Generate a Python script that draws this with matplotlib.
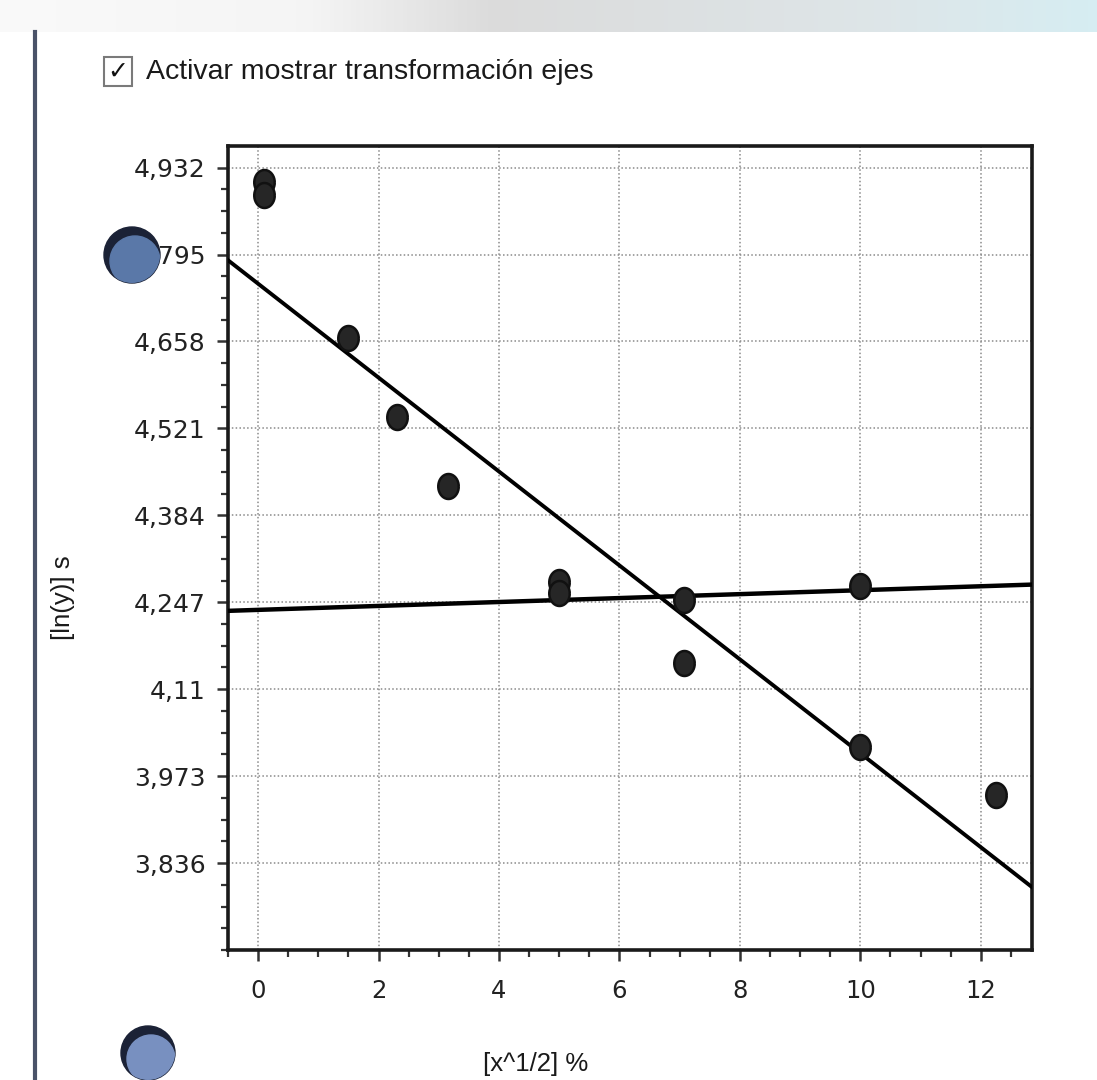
import matplotlib
matplotlib.use("Agg")
import matplotlib.pyplot as plt
import numpy as np
from matplotlib.patches import Circle, Rectangle

# data
x_vals = [0.1, 0.1, 1.5, 2.3, 3.16, 5.0, 5.0, 7.07, 7.07, 10.0, 10.0, 12.25]
y_vals = [4.909, 4.889, 4.663, 4.539, 4.430, 4.279, 4.262, 4.251, 4.152, 4.273, 4.019, 3.943]

# fitted lines (intercept, slope)
fit_down = (4.749, -0.0740)
fit_flat = (4.235, 0.0031)

y_ticks = [4.932, 4.795, 4.658, 4.521, 4.384, 4.247, 4.11, 3.973, 3.836]
y_ticklabels = ["4,932", "4,795", "4,658", "4,521", "4,384", "4,247", "4,11", "3,973", "3,836"]
x_ticks = [0, 2, 4, 6, 8, 10, 12]

W, H = 1097, 1080
fig = plt.figure(figsize=(W / 100, H / 100), dpi=100)
fig.patch.set_facecolor("white")

# background: top strip + left border
bg = fig.add_axes([0, 0, 1, 1], zorder=-5)
bg.set_xlim(0, W)
bg.set_ylim(H, 0)
bg.axis("off")
grad = np.ones((1, 256, 3))
stops_x = [0, 0.28, 0.45, 0.8, 1.0]
stops_c = [(0.98, 0.98, 0.98), (0.96, 0.96, 0.96), (0.86, 0.86, 0.86), (0.87, 0.9, 0.91), (0.84, 0.93, 0.95)]
t = np.linspace(0, 1, 256)
for k in range(3):
    grad[0, :, k] = np.interp(t, stops_x, [c[k] for c in stops_c])
bg.imshow(grad, extent=[0, W, 32, 0], aspect="auto")
bg.plot([35, 35], [32, H], color="#4a5268", lw=3)

# checkbox and caption
bg.add_patch(Rectangle((104, 57), 28, 29, fill=False, ec="#7a7a7a", lw=1.5))
bg.text(118, 72, "✓", ha="center", va="center", fontsize=18, color="#111111", fontweight="bold")
bg.text(146, 72, "Activar mostrar transformación ejes", ha="left", va="center",
        fontsize=20.5, family="Liberation Sans", color="#1a1a1a")

# main chart
ax = fig.add_axes([228 / W, 1 - 950 / H, (1032 - 228) / W, (950 - 146) / H])
ax.set_xlim(-0.5, 12.85)
ax.set_ylim(3.727, 4.966)

ax.grid(True, which="major", color="#8a8a8a", linestyle=(0, (1, 1.5)), lw=1.1)

xx = np.array(ax.get_xlim())
ax.plot(xx, fit_down[0] + fit_down[1] * xx, color="black", lw=2.8, zorder=3)
ax.plot(xx, fit_flat[0] + fit_flat[1] * xx, color="black", lw=3.2, zorder=3)

th = np.linspace(0, 2 * np.pi, 40)
ell = np.column_stack([0.82 * np.cos(th), np.sin(th)])
ax.plot(x_vals, y_vals, linestyle="none", marker=ell, ms=18,
        mfc="#262626", mec="#111111", mew=1.8, zorder=4)

ax.set_xticks(x_ticks)
ax.set_xticklabels([str(v) for v in x_ticks])
ax.set_xticks(np.arange(-0.5, 12.9, 0.5), minor=True)
ax.set_yticks(y_ticks)
ax.set_yticklabels(y_ticklabels)
ax.set_yticks(np.arange(3.836 - 0.137, 4.966, 0.137 / 4), minor=True)
ax.tick_params(axis="both", which="major", direction="out", length=8, width=1.8, color="#333333")
ax.tick_params(axis="both", which="minor", direction="out", length=5, width=1.6, color="#333333")
ax.tick_params(axis="y", which="major", labelsize=18, pad=8, labelcolor="#222222")
ax.tick_params(axis="x", which="major", labelsize=17.5, pad=13, labelcolor="#222222")
ax.tick_params(top=False, right=False)
for s in ax.spines.values():
    s.set_linewidth(2.6)
    s.set_color("#1a1a1a")

fig.text(63 / W, 1 - 598 / H, "[ln(y)] s", rotation=90, ha="center", va="center",
         fontsize=18.5, family="Liberation Sans", color="#1a1a1a")
fig.text(536 / W, 1 - 1064 / H, "[x^1/2] %", ha="center", va="center",
         fontsize=18.5, family="Liberation Sans", color="#1a1a1a")

# the two blue touch buttons from the phone photo
fg = fig.add_axes([0, 0, 1, 1], zorder=10)
fg.set_xlim(0, W)
fg.set_ylim(H, 0)
fg.axis("off")
fg.patch.set_alpha(0)
for cx, cy, r, light in [(132, 255, 28, "#5a78a8"), (148, 1053, 27, "#7890c0")]:
    base = Circle((cx, cy), r, color="#1b2236", zorder=1)
    fg.add_patch(base)
    inner = Circle((cx + 3, cy + 6), r - 3, color=light, zorder=2)
    fg.add_patch(inner)
    inner.set_clip_path(base)

fig.savefig("out.png", dpi=100)
